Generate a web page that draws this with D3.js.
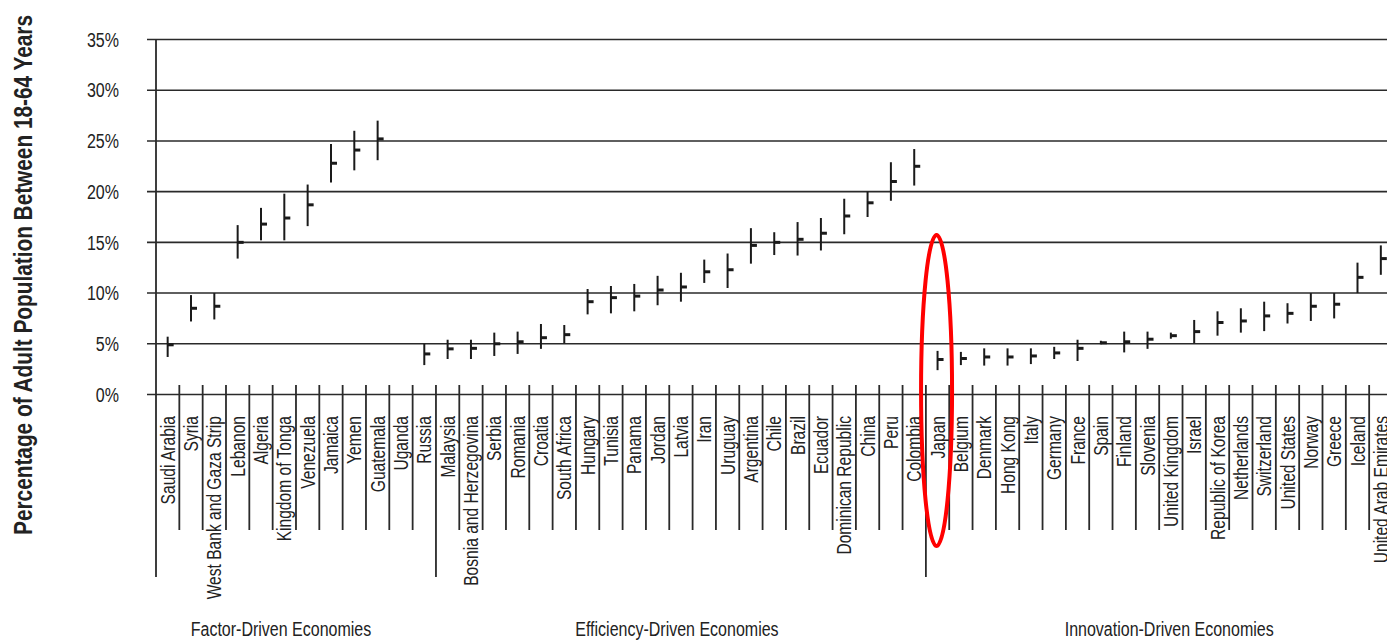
<!DOCTYPE html>
<html>
<head>
<meta charset="utf-8">
<script src="https://cdn.jsdelivr.net/npm/d3@7"></script>
<style>
  html, body { margin: 0; padding: 0; background: #fff; }
  svg { display: block; }
  text { font-family: "Liberation Sans", Arial, sans-serif; fill: #222; }
</style>
</head>
<body>
<svg id="chart" width="1387" height="640"></svg>
<script>
// Countries in plotted order
const countries = [
  "Saudi Arabia", "Syria", "West Bank and Gaza Strip", "Lebanon", "Algeria", "Kingdom of Tonga",
  "Venezuela", "Jamaica", "Yemen", "Guatemala", "Uganda", "Russia",
  "Malaysia", "Bosnia and Herzegovina", "Serbia", "Romania", "Croatia", "South Africa",
  "Hungary", "Tunisia", "Panama", "Jordan", "Latvia", "Iran", "Uruguay", "Argentina",
  "Chile", "Brazil", "Ecuador", "Dominican Republic", "China", "Peru", "Colombia",
  "Japan", "Belgium", "Denmark", "Hong Kong", "Italy", "Germany", "France", "Spain",
  "Finland", "Slovenia", "United Kingdom", "Israel", "Republic of Korea", "Netherlands",
  "Switzerland", "United States", "Norway", "Greece", "Iceland", "United Arab Emirates"
];

// Point estimate (%) and interval bounds (%); Uganda lies outside the plotted range
const estimate = [
  4.9, 8.5, 8.7, 15.0, 16.8, 17.4, 18.7, 22.8, 24.1, 25.2, null, 4.0,
  4.5, 4.55, 5.0, 5.2, 5.6, 5.9, 9.15, 9.55, 9.7, 10.3, 10.6, 12.1, 12.3, 14.7,
  15.0, 15.3, 15.9, 17.6, 18.9, 21.0, 22.5,
  3.45, 3.55, 3.7, 3.7, 3.8, 4.1, 4.55, 5.1, 5.2, 5.45, 5.8, 6.2, 7.1, 7.25,
  7.75, 8.0, 8.7, 8.9, 11.55, 13.4
];
const lower = [
  3.7, 7.2, 7.4, 13.4, 15.2, 15.2, 16.6, 20.9, 22.1, 23.1, null, 2.9,
  3.5, 3.5, 3.8, 4.0, 4.5, 5.05, 7.9, 8.0, 8.2, 8.8, 9.15, 11.0, 10.5, 12.9,
  13.75, 13.7, 14.2, 15.8, 17.5, 19.1, 20.6,
  2.4, 2.9, 2.85, 2.85, 3.0, 3.5, 3.3, 4.95, 4.15, 4.5, 5.5, 5.05, 5.8, 6.1,
  6.25, 7.0, 7.25, 7.5, 10.0, 11.8
];
const upper = [
  5.7, 9.8, 10.0, 16.7, 18.4, 19.8, 20.7, 24.7, 26.0, 27.0, null, 5.0,
  5.4, 5.4, 6.1, 6.2, 6.95, 6.85, 10.4, 10.7, 10.9, 11.7, 12.0, 13.3, 13.9, 16.4,
  16.0, 17.0, 17.4, 19.3, 20.0, 22.9, 24.2,
  4.3, 4.2, 4.55, 4.55, 4.55, 4.7, 5.4, 5.3, 6.2, 6.2, 6.1, 7.35, 8.2, 8.5,
  9.15, 9.0, 10.0, 10.0, 13.0, 14.7
];

// Economy groups and the first country of each
const groupNames = ["Factor-Driven Economies", "Efficiency-Driven Economies", "Innovation-Driven Economies"];
const groupFirst = ["Saudi Arabia", "Malaysia", "Japan"];

// Value axis ticks (%)
const yTicks = [0, 5, 10, 15, 20, 25, 30, 35];

// Highlighted country
const highlight = "Japan";

const svg = d3.select("#chart");
const W = 1387;
const step = 23.33;
const left = 156;
const narrow = 0.8; // horizontal squeeze for a condensed look
const groupNudge = [-15, -4, 10]; // label placement tweaks under each group

const x = d3.scaleBand().domain(countries).range([left, left + step * countries.length]).padding(0);
const y = d3.scaleLinear().domain([0, 35]).range([394.5, 39.5]);

const ink = "#2a2a2a";

// Horizontal gridlines
svg.append("g").selectAll("line").data(yTicks).join("line")
  .attr("x1", 147).attr("x2", W)
  .attr("y1", d => y(d)).attr("y2", d => y(d))
  .attr("stroke", ink).attr("stroke-width", 1.6);

// Value tick labels
svg.append("g").selectAll("text").data(yTicks).join("text")
  .attr("transform", d => `translate(119,${y(d)}) scale(${narrow},1)`)
  .attr("dy", "0.36em")
  .attr("text-anchor", "end").attr("font-size", 20)
  .text(d => d + "%");

// Vertical axis line
svg.append("line")
  .attr("x1", left).attr("x2", left).attr("y1", y(35)).attr("y2", 577)
  .attr("stroke", ink).attr("stroke-width", 1.8);

// Category separators (long ones at group boundaries)
const boundaries = countries.slice(1).map(c => ({ x: x(c), long: groupFirst.includes(c) }));
boundaries.push({ x: x(countries[countries.length - 1]) + x.bandwidth(), long: false });
svg.append("g").selectAll("line").data(boundaries).join("line")
  .attr("x1", d => d.x).attr("x2", d => d.x)
  .attr("y1", 385).attr("y2", d => d.long ? 577 : 530)
  .attr("stroke", ink).attr("stroke-width", 1.8);

// Country labels
svg.append("g").selectAll("text").data(countries).join("text")
  .attr("transform", d => `translate(${x(d) + x.bandwidth() / 2},416) rotate(-90) scale(${narrow},1)`)
  .attr("text-anchor", "end").attr("dy", "0.36em")
  .attr("font-size", 19.5)
  .text(d => d);

// Interval marks
const rows = countries.map((c, i) => ({ c, est: estimate[i], lo: lower[i], hi: upper[i] }))
  .filter(d => d.est != null);
const marks = svg.append("g");
marks.selectAll("line.range").data(rows).join("line").attr("class", "range")
  .attr("x1", d => x(d.c) + x.bandwidth() / 2).attr("x2", d => x(d.c) + x.bandwidth() / 2)
  .attr("y1", d => y(d.hi)).attr("y2", d => y(d.lo))
  .attr("stroke", "#1a1a1a").attr("stroke-width", 2);
marks.selectAll("line.est").data(rows).join("line").attr("class", "est")
  .attr("x1", d => x(d.c) + x.bandwidth() / 2).attr("x2", d => x(d.c) + x.bandwidth() / 2 + 6)
  .attr("y1", d => y(d.est)).attr("y2", d => y(d.est))
  .attr("stroke", "#1a1a1a").attr("stroke-width", 3);

// Group labels
const groupEnds = groupFirst.slice(1).map(c => x(c)).concat([x.range()[1]]);
svg.append("g").selectAll("text").data(groupNames).join("text")
  .attr("transform", (d, i) => `translate(${(x(groupFirst[i]) + groupEnds[i]) / 2 + groupNudge[i]},636) scale(${narrow},1)`)
  .attr("text-anchor", "middle").attr("font-size", 20)
  .text(d => d);

// Axis title
svg.append("text")
  .attr("transform", `translate(32,275) rotate(-90) scale(${narrow},1)`)
  .attr("text-anchor", "middle").attr("font-size", 26).attr("font-weight", "bold")
  .text("Percentage of Adult Population Between 18-64 Years");

// Highlight ring
svg.append("ellipse")
  .attr("cx", x(highlight) + x.bandwidth() / 2 - 1).attr("cy", 390.5)
  .attr("rx", 15.5).attr("ry", 155.5)
  .attr("fill", "none").attr("stroke", "#ff0000").attr("stroke-width", 4);
</script>
</body>
</html>
